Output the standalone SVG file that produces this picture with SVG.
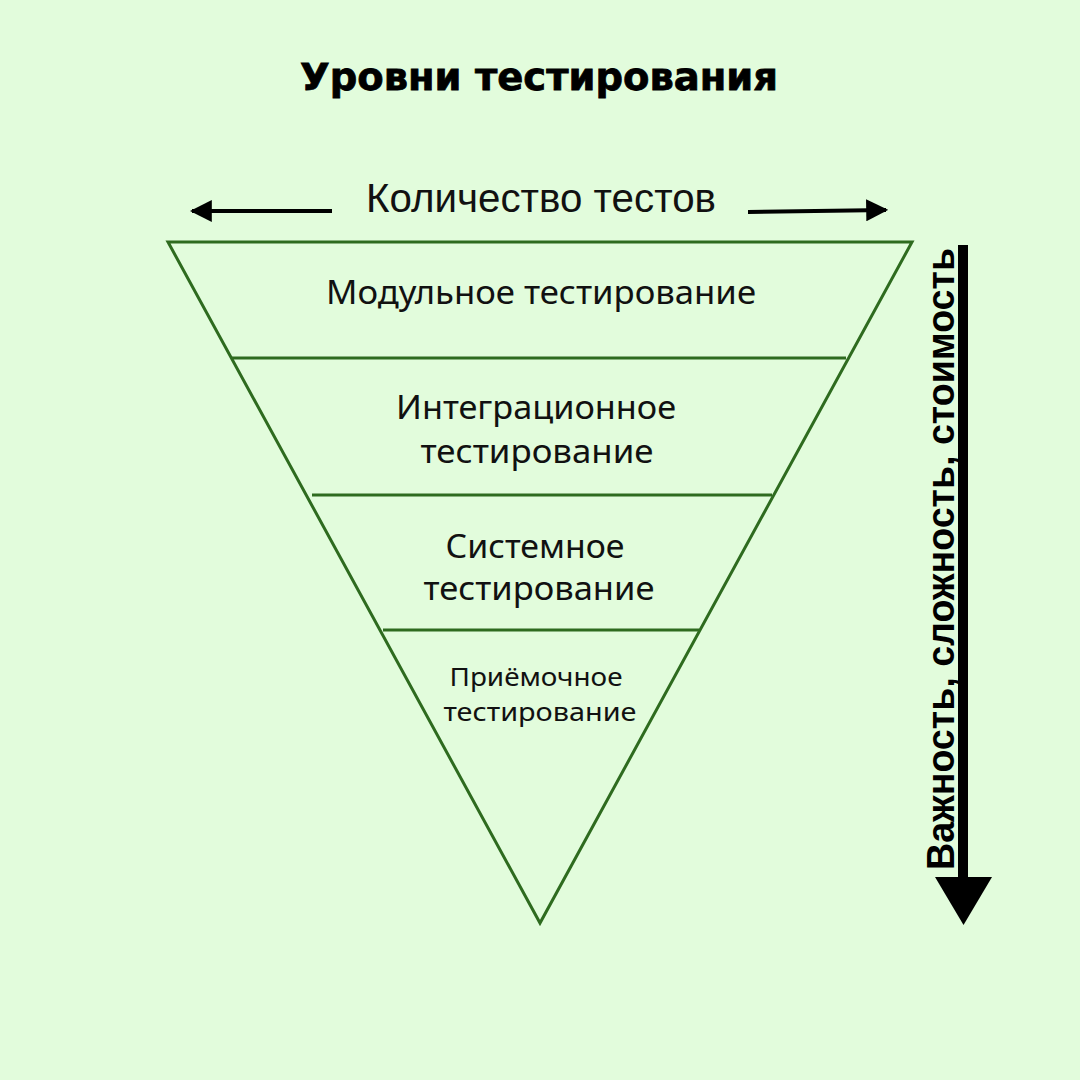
<svg xmlns="http://www.w3.org/2000/svg" width="1080" height="1080" viewBox="0 0 1080 1080">
<style>
.layer{font-family:"Noto Sans","Open Sans",sans-serif;font-size:32px;fill:#111;text-anchor:middle}
.small{font-size:26px}
.edge{stroke:#2E6B1F;stroke-width:3;fill:none}
</style>
<defs>
<marker id="ah" viewBox="0 0 10 10" refX="9" refY="5" markerWidth="5.5" markerHeight="5.5" orient="auto" markerUnits="strokeWidth">
<path d="M0,0 L10,5 L0,10 z" fill="#000"/>
</marker>
</defs>
<rect width="1080" height="1080" fill="#E2FCDC"/>
<text x="539" y="90" font-family="DejaVu Sans,Liberation Sans,sans-serif" font-weight="bold" font-size="38" text-anchor="middle" textLength="478" lengthAdjust="spacingAndGlyphs" fill="#000" stroke="#000" stroke-width="0.8">Уровни тестирования</text>
<g id="connectors">
<line x1="332" y1="211" x2="192" y2="211" stroke="#000" stroke-width="4" marker-end="url(#ah)"/>
<line x1="748" y1="212" x2="886" y2="210" stroke="#000" stroke-width="4" marker-end="url(#ah)"/>
<line x1="963" y1="245" x2="963" y2="880" stroke="#000" stroke-width="10"/>
<polygon points="935,877 992,877 963.5,925" fill="#000"/>
</g>
<g id="axis-top">
<text x="541" y="212" font-family="Liberation Sans,Arial,sans-serif" font-size="41" text-anchor="middle" textLength="350" lengthAdjust="spacingAndGlyphs" fill="#111">Количество тестов</text>
</g>
<g id="axis-right">
<text transform="translate(954,559) rotate(-90)" x="0" y="0" font-family="Liberation Sans,Arial,sans-serif" font-weight="bold" font-size="38" text-anchor="middle" textLength="622" lengthAdjust="spacingAndGlyphs" fill="#000">Важность, сложность, стоимость</text>
</g>
<g id="pyramid">
<polygon class="edge" points="168,242 912,242 540,923"/>
</g>
<g id="layer-unit">
<line class="edge" x1="232" y1="358" x2="846" y2="358"/>
<text class="layer" x="541" y="304" textLength="430" lengthAdjust="spacingAndGlyphs">Модульное тестирование</text>
</g>
<g id="layer-integration">
<line class="edge" x1="312" y1="495" x2="772" y2="495"/>
<text class="layer" x="536" y="419" textLength="280" lengthAdjust="spacingAndGlyphs">Интеграционное</text>
<text class="layer" x="537" y="463" textLength="233" lengthAdjust="spacingAndGlyphs">тестирование</text>
</g>
<g id="layer-system">
<line class="edge" x1="383" y1="630" x2="699" y2="630"/>
<text class="layer" x="535" y="558" textLength="179" lengthAdjust="spacingAndGlyphs">Системное</text>
<text class="layer" x="539" y="600" textLength="231" lengthAdjust="spacingAndGlyphs">тестирование</text>
</g>
<g id="layer-acceptance">
<text class="layer small" x="536" y="686" textLength="173" lengthAdjust="spacingAndGlyphs">Приёмочное</text>
<text class="layer small" x="540" y="721" textLength="193" lengthAdjust="spacingAndGlyphs">тестирование</text>
</g>
</svg>
